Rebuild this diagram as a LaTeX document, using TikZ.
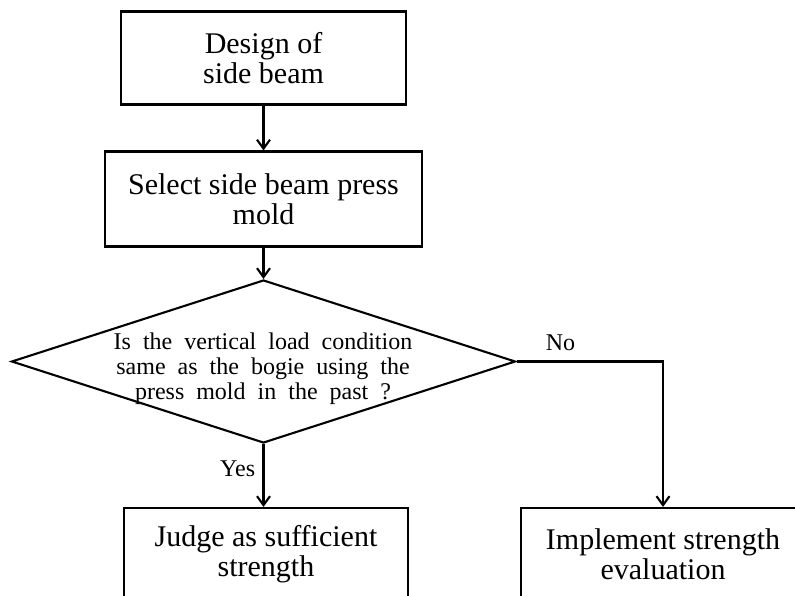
\documentclass[tikz,border=0pt]{standalone}
\usepackage{fontspec}
\setmainfont{Liberation Serif}
\usetikzlibrary{shapes.geometric}
\usetikzlibrary{arrows.meta}

\newcommand\widewords{\spaceskip=0.5em\relax}

\begin{document}
\begin{tikzpicture}[x=1pt,y=-1pt,line width=2.1pt,>={Straight Barb[length=9pt,width=13pt]},
        box/.style={draw,rectangle,minimum height=93pt,align=center,font=\fontsize{30}{30}\selectfont},
        decision/.style={draw,diamond,minimum width=504pt,minimum height=163pt,inner sep=0pt},
        lbl/.style={font=\fontsize{24}{25}\selectfont}]
        \path[use as bounding box,clip] (0,0) rectangle (795,596);
        \node[box,minimum width=285pt] (design) at (263.5,58) {Design of\\side beam};
        \node[box,minimum width=317pt,minimum height=95pt] (select) at (263.5,199) {Select side beam press\\mold};
        \node[decision] (check) at (263.5,361.5) {};
        \node[lbl,align=center] (checktext) at (263,369) {\widewords Is the vertical load condition\\\widewords same as the bogie using the\\\widewords press mold in the past ?};
        \node[box,minimum width=284pt] (judge) at (266,554.5) {Judge as sufficient\\strength};
        \node[box,minimum width=284pt] (implement) at (663,554.5) {Implement strength\\evaluation};
        \draw[->](design.south) -- (select.north);
        \draw[->](select.south) -- (check.north);
        \draw[->](check.south) -- node[lbl,left=4pt,pos=0.4] (yes) {Yes} (check.south |- judge.north);
        \draw[->](check.east) -| node[lbl,above=6pt,pos=0.15] (no) {No} (implement.north);
    \end{tikzpicture}
\end{document}
